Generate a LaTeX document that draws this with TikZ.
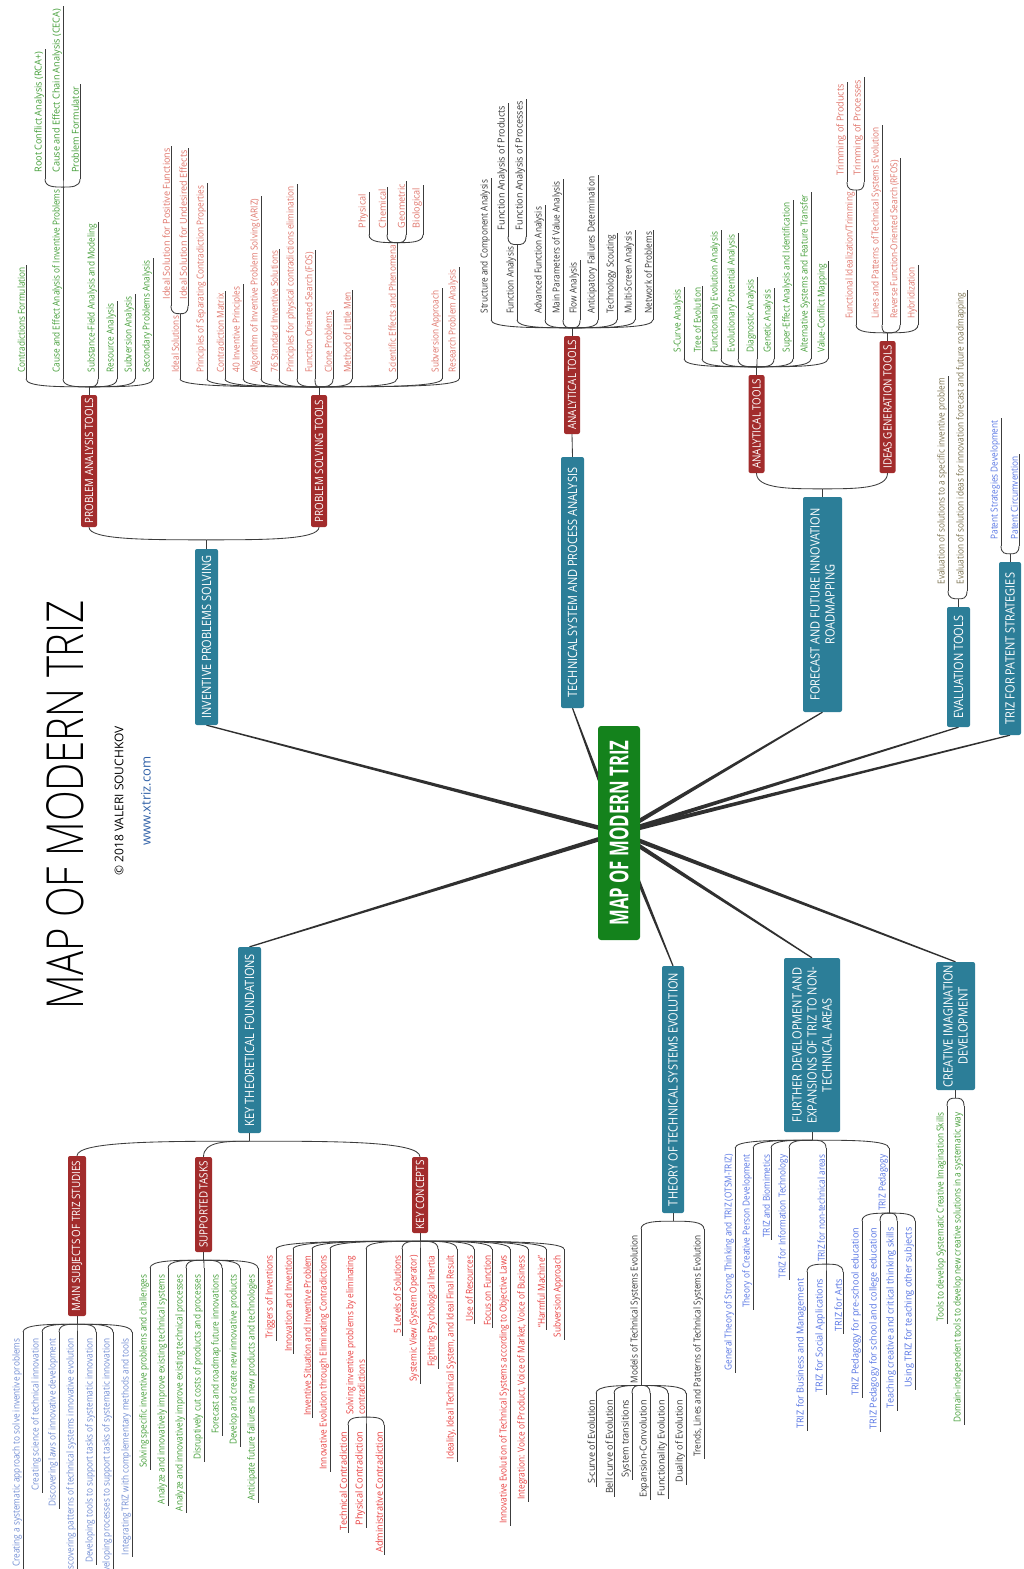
\documentclass[tikz,border=0pt]{standalone}
\usepackage{fontspec}
\setmainfont{Open Sans}
\newfontfamily\titlefont{Open Sans}[UprightFont=* Light]
\usetikzlibrary{calc}
\pgfdeclarelayer{bg}
\pgfsetlayers{bg,main}

\definecolor{boxteal}{RGB}{44,126,152}
\definecolor{boxred}{RGB}{162,44,44}
\definecolor{boxgreen}{RGB}{20,130,28}
\definecolor{linegray}{RGB}{60,60,60}
\definecolor{cGreen}{RGB}{68,158,56}
\definecolor{cSalmon}{RGB}{224,118,108}
\definecolor{cRed}{RGB}{232,62,62}
\definecolor{cDark}{RGB}{55,55,55}
\definecolor{cBlue}{RGB}{88,118,228}
\definecolor{cLBlue}{RGB}{115,142,212}
\definecolor{cOlive}{RGB}{125,116,82}
\definecolor{cUrl}{RGB}{50,98,168}

\tikzset{
  conn/.style={draw=linegray, line width=0.85pt},
  leaf/.style={rotate=90, xscale=0.86, font=\fontsize{9.6}{11.5}\selectfont, inner xsep=2.5pt, inner ysep=0.8pt},
  deep/.style={xscale=1.1},
  box/.style={rotate=90, xscale=0.86, rounded corners=2pt, text=white, align=center, inner xsep=3pt, inner ysep=0pt},
  blen/.style={minimum width=#1pt/0.86},
  tealbox/.style={box, fill=boxteal, font=\fontsize{12.8}{15}\selectfont, minimum height=23pt},
  redbox/.style={box, fill=boxred, font=\fontsize{11.4}{13}\selectfont, minimum height=16pt},
  hubbox/.style={rotate=90, rounded corners=3pt, fill=boxgreen, text=white,
    font=\bfseries\fontsize{26}{28}\selectfont, minimum width=214pt, minimum height=42pt, inner sep=0pt},
  lgreen/.style={text=cGreen},
  lsalmon/.style={text=cSalmon},
  lred/.style={text=cRed},
  ldark/.style={text=cDark},
  lblue/.style={text=cBlue},
  llblue/.style={text=cLBlue},
  lolive/.style={text=cOlive}
}

% curved branch from a fork point #2 to the start #3 of a child line
\newcommand\mmbend[3]{%
  \coordinate (#1c) at (#3 |- #2);
  \coordinate (#1m) at ($(#2)!0.5!(#1c)$);
  \draw[conn] (#2) .. controls (#1m) and (#1c) .. (#3);}

% leaf growing upwards: name, fork point, x of its line, colour style, text
\newcommand\leafup[5]{%
  \coordinate (#1x) at (#3,0);
  \path (#1x |- #2) ++(0,8) coordinate (#1s) ++(0,4) coordinate (#1t);
  \node[leaf,#4,anchor=south west] (#1) at (#1t) {#5};
  \mmbend{#1}{#2}{#1s}
  \draw[conn] (#1s) -- (#1.south east);}

% leaf growing downwards
\newcommand\leafdown[5]{%
  \coordinate (#1x) at (#3,0);
  \path (#1x |- #2) ++(0,-8) coordinate (#1s) ++(0,-4) coordinate (#1t);
  \node[leaf,#4,anchor=south east] (#1) at (#1t) {#5};
  \mmbend{#1}{#2}{#1s}
  \draw[conn] (#1s) -- (#1.south west);}

% tapered main connector: thin at #1, thick at #2
\newcommand\taperline[2]{%
  \fill[linegray!80!black] ($(#1)!0.6pt!90:(#2)$) -- ($(#1)!0.6pt!-90:(#2)$)
    -- ($(#2)!2.3pt!90:(#1)$) -- ($(#2)!2.3pt!-90:(#1)$) -- cycle;}

\begin{document}
\begin{tikzpicture}[x=1pt,y=1pt]
\useasboundingbox (0,0) rectangle (1023,-1569);
\clip (0,0) rectangle (1023,-1569);

% ---------- title ----------
\node[rotate=90, font=\titlefont\fontsize{51}{53}\selectfont] (ttl) at (65,-805) {\scalebox{0.785}[1]{MAP OF MODERN TRIZ}};
\node[rotate=90, font=\fontsize{12}{14}\selectfont] (cpy) at (119,-801) {© 2018 VALERI SOUCHKOV};
\node[rotate=90, font=\fontsize{13}{15}\selectfont, text=cUrl] (url) at (146,-801) {www.xtriz.com};

% ---------- hub ----------
\node[hubbox] (mmt) at (619,-833) {\scalebox{0.645}[1]{MAP OF MODERN TRIZ}};

% ---------- main topics ----------
\node[tealbox, blen=176] (inv) at (206.5,-637) {INVENTIVE PROBLEMS SOLVING};
\node[tealbox, blen=251] (tsa) at (572.5,-582.5) {TECHNICAL SYSTEM AND PROCESS ANALYSIS};
\node[tealbox, blen=215, minimum height=39pt] (ffr) at (822.5,-604.5) {FORECAST AND FUTURE INNOVATION\\ROADMAPPING};
\node[tealbox, blen=120] (evt) at (958.5,-667) {EVALUATION TOOLS};
\node[tealbox, blen=173, minimum height=22pt] (tps) at (1010,-648.5) {TRIZ FOR PATENT STRATEGIES};
\node[tealbox, blen=186] (ktf) at (249.5,-1040) {KEY THEORETICAL FOUNDATIONS};
\node[tealbox, blen=247, minimum height=22pt] (tse) at (673,-1089.5) {THEORY OF TECHNICAL SYSTEMS EVOLUTION};
\node[tealbox, blen=174, minimum height=56pt] (fde) at (812,-1045) {FURTHER DEVELOPMENT AND\\EXPANSIONS OF TRIZ TO NON-\\TECHNICAL AREAS};
\node[tealbox, blen=128, minimum height=39pt] (cid) at (955.5,-1026) {CREATIVE IMAGINATION\\DEVELOPMENT};

% ---------- sub topics ----------
\node[redbox, blen=132] (pat) at (89,-461) {PROBLEM ANALYSIS TOOLS};
\node[redbox, blen=132] (pst) at (319,-461) {PROBLEM SOLVING TOOLS};
\node[redbox, blen=98] (at1) at (572,-385) {ANALYTICAL TOOLS};
\node[redbox, blen=98] (at2) at (756.5,-424) {ANALYTICAL TOOLS};
\node[redbox, blen=132] (igt) at (887.5,-407) {IDEAS GENERATION TOOLS};
\node[redbox, blen=160, minimum height=18pt] (mst) at (77,-1236) {MAIN SUBJECTS OF TRIZ STUDIES};
\node[redbox, blen=95, minimum height=17pt] (spt) at (203.5,-1204.5) {SUPPORTED TASKS};
\node[redbox, blen=76] (kcs) at (420,-1195) {KEY CONCEPTS};

% ---------- forks between topics ----------
\coordinate (invf) at ($(inv.east)+(0,9)$);
\draw[conn] (inv.east) -- (invf);
\mmbend{bpa}{invf}{pat.west}
\mmbend{bps}{invf}{pst.west}
\draw[conn] (tsa.east) -- (at1.west);
\coordinate (ffrf) at ($(ffr.east)+(0,8)$);
\draw[conn] (ffr.east) -- (ffrf);
\mmbend{bfa}{ffrf}{at2.west}
\mmbend{bfi}{ffrf}{igt.west}
\coordinate (ktff) at ($(ktf.west)+(0,-8)$);
\draw[conn] (ktf.west) -- (ktff);
\mmbend{bkm}{ktff}{mst.east}
\mmbend{bks}{ktff}{spt.east}
\mmbend{bkc}{ktff}{kcs.east}

% ---------- problem analysis tools ----------
\coordinate (patf) at ($(pat.east)+(0,8)$);
\draw[conn] (pat.east) -- (patf);
\leafup{pa1}{patf}{26}{lgreen}{Contradictions Formulation}
\leafup{pa2}{patf}{63}{lgreen}{Cause and Effect Analysis of Inventive Problems}
\leafup{pa21}{pa2.south east}{45}{lgreen,deep}{Root Conflict Analysis (RCA+)}
\leafup{pa22}{pa2.south east}{63}{lgreen,deep}{Cause and Effect Chain Analysis (CECA)}
\leafup{pa23}{pa2.south east}{80}{lgreen,deep}{Problem Formulator}
\leafup{pa3}{patf}{98}{lgreen}{Substance-Field Analysis and Modeling}
\leafup{pa4}{patf}{117}{lgreen}{Resource Analysis}
\leafup{pa5}{patf}{135}{lgreen}{Subversion Analysis}
\leafup{pa6}{patf}{153}{lgreen}{Secondary Problems Analysis}

% ---------- problem solving tools ----------
\coordinate (pstf) at ($(pst.east)+(0,8)$);
\draw[conn] (pst.east) -- (pstf);
\leafup{ps1}{pstf}{180}{lsalmon}{Ideal Solutions}
\leafup{ps11}{ps1.south east}{171}{lsalmon,deep}{Ideal Solution for Positive Functions}
\leafup{ps12}{ps1.south east}{188}{lsalmon,deep}{Ideal Solution for Undesired Effects}
\leafup{ps2}{pstf}{207}{lsalmon}{Principles of Separating Contradiction Properties}
\leafup{ps3}{pstf}{225}{lsalmon}{Contradiction Matrix}
\leafup{ps4}{pstf}{243}{lsalmon}{40 Inventive Principles}
\leafup{ps5}{pstf}{261}{lsalmon}{Algorithm of Inventive Problem Solving (ARIZ)}
\leafup{ps6}{pstf}{279}{lsalmon}{76 Standard Inventive Solutions}
\leafup{ps7}{pstf}{297}{lsalmon}{Principles for physical contradictions elimination}
\leafup{ps8}{pstf}{315}{lsalmon}{Function Oriented Search (FOS)}
\leafup{ps9}{pstf}{333}{lsalmon}{Clone Problems}
\leafup{psa}{pstf}{352}{lsalmon}{Method of Little Men}
\leafup{pse}{pstf}{397}{lsalmon}{Scientific Effects and Phenomena}
\leafup{pse1}{pse.south east}{369}{lsalmon,deep}{Physical}
\leafup{pse2}{pse.south east}{387}{lsalmon,deep}{Chemical}
\leafup{pse3}{pse.south east}{406}{lsalmon,deep}{Geometric}
\leafup{pse4}{pse.south east}{423}{lsalmon,deep}{Biological}
\leafup{psb}{pstf}{442}{lsalmon}{Subversion Approach}
\leafup{psc}{pstf}{459}{lsalmon}{Research Problem Analysis}

% ---------- analytical tools (system analysis) ----------
\coordinate (at1f) at ($(at1.east)+(0,8)$);
\draw[conn] (at1.east) -- (at1f);
\leafup{ta1}{at1f}{491}{ldark}{Structure and Component Analysis}
\leafup{ta2}{at1f}{517}{ldark}{Function Analysis}
\leafup{ta21}{ta2.south east}{508}{ldark,deep}{Function Analysis of Products}
\leafup{ta22}{ta2.south east}{526}{ldark,deep}{Function Analysis of Processes}
\leafup{ta3}{at1f}{545}{ldark}{Advanced Function Analysis}
\leafup{ta4}{at1f}{563}{ldark}{Main Parameters of Value Analysis}
\leafup{ta5}{at1f}{580}{ldark}{Flow Analysis}
\leafup{ta6}{at1f}{598}{ldark}{Anticipatory Failures Determination}
\leafup{ta7}{at1f}{617}{ldark}{Technology Scouting}
\leafup{ta8}{at1f}{635}{ldark}{Multi-Screen Analysis}
\leafup{ta9}{at1f}{653}{ldark}{Network of Problems}

% ---------- analytical tools (forecast) ----------
\coordinate (at2f) at ($(at2.east)+(0,8)$);
\draw[conn] (at2.east) -- (at2f);
\leafup{fa1}{at2f}{684}{lgreen}{S-Curve Analysis}
\leafup{fa2}{at2f}{702}{lgreen}{Tree of Evolution}
\leafup{fa3}{at2f}{721}{lgreen}{Functionality Evolution Analysis}
\leafup{fa4}{at2f}{738}{lgreen}{Evolutionary Potential Analysis}
\leafup{fa5}{at2f}{757}{lgreen}{Diagnostic Analysis}
\leafup{fa6}{at2f}{774}{lgreen}{Genetic Analysis}
\leafup{fa7}{at2f}{793}{lgreen}{Super-Effect Analysis and Identification}
\leafup{fa8}{at2f}{811}{lgreen}{Alternative Systems and Feature Transfer}
\leafup{fa9}{at2f}{828}{lgreen}{Value-Conflict Mapping}

% ---------- ideas generation tools ----------
\coordinate (igtf) at ($(igt.east)+(0,8)$);
\draw[conn] (igt.east) -- (igtf);
\leafup{ig1}{igtf}{856}{lsalmon}{Functional Idealization/Trimming}
\leafup{ig11}{ig1.south east}{847}{lsalmon,deep}{Trimming of Products}
\leafup{ig12}{ig1.south east}{864}{lsalmon,deep}{Trimming of Processes}
\leafup{ig2}{igtf}{882}{lsalmon}{Lines and Patterns of Technical Systems Evolution}
\leafup{ig3}{igtf}{900}{lsalmon}{Reverse Function-Oriented Search (RFOS)}
\leafup{ig4}{igtf}{918}{lsalmon}{Hybridization}

% ---------- evaluation tools ----------
\coordinate (evtf) at ($(evt.east)+(0,8)$);
\draw[conn] (evt.east) -- (evtf);
\leafup{ev1}{evtf}{948}{lolive}{Evaluation of solutions to a specific inventive problem}
\leafup{ev2}{evtf}{967}{lolive}{Evaluation of solution ideas for innovation forecast and future roadmapping}

% ---------- patent strategies ----------
\coordinate (tpsf) at ($(tps.east)+(0,8)$);
\draw[conn] (tps.east) -- (tpsf);
\leafup{tp1}{tpsf}{1001}{lblue}{Patent Strategies Development}
\leafup{tp2}{tpsf}{1019}{lblue}{Patent Circumvention}

% ---------- main subjects of TRIZ studies ----------
\coordinate (mstf) at ($(mst.west)+(0,-8)$);
\draw[conn] (mst.west) -- (mstf);
\leafdown{ms1}{mstf}{23}{llblue}{Creating a systematic approach to solve inventive problems}
\leafdown{ms2}{mstf}{42}{llblue}{Creating science of technical innovation}
\leafdown{ms3}{mstf}{59}{llblue}{Discovering laws of innovative development}
\leafdown{ms4}{mstf}{77}{llblue}{Discovering patterns of technical systems innovative evolution}
\leafdown{ms5}{mstf}{96}{llblue}{Developing tools to support tasks of systematic innovation}
\leafdown{ms6}{mstf}{113}{llblue}{Developing processes to support tasks of systematic innovation}
\leafdown{ms7}{mstf}{132}{llblue}{Integrating TRIZ with complementary methods and tools}

% ---------- supported tasks ----------
\coordinate (sptf) at ($(spt.west)+(0,-8)$);
\draw[conn] (spt.west) -- (sptf);
\leafdown{st1}{sptf}{150}{lgreen}{Solving specific inventive problems and challenges}
\leafdown{st2}{sptf}{168}{lgreen}{Analyze and innovatively improve existing technical systems}
\leafdown{st3}{sptf}{186}{lgreen}{Analyze and innovatively improve existing technical processes}
\leafdown{st4}{sptf}{204}{lgreen}{Disruptively cut costs of products and processes}
\leafdown{st5}{sptf}{222}{lgreen}{Forecast and roadmap future innovations}
\leafdown{st6}{sptf}{240}{lgreen}{Develop and create new innovative products}
\leafdown{st7}{sptf}{258}{lgreen}{Anticipate future failures in new products and technologies}

% ---------- key concepts ----------
\coordinate (kcsf) at ($(kcs.west)+(0,-8)$);
\draw[conn] (kcs.west) -- (kcsf);
\leafdown{kc1}{kcsf}{276}{lred}{Triggers of Inventions}
\leafdown{kc2}{kcsf}{293}{lred}{Innovation and Invention}
\leafdown{kc3}{kcsf}{312}{lred}{Inventive Situation and Inventive Problem}
\leafdown{kc4}{kcsf}{330}{lred}{Innovative Evolution through Eliminating Contradictions}
\leafdown{kc5}{kcsf}{366}{lred,align=left}{Solving inventive problems by eliminating\\contradictions}
\leafdown{kc51}{kc5.south west}{348}{lred,deep}{Technical Contradiction}
\leafdown{kc52}{kc5.south west}{366}{lred,deep}{Physical Contradiction}
\leafdown{kc53}{kc5.south west}{384}{lred,deep}{Administrative Contradiction}
\leafdown{kc6}{kcsf}{402}{lred}{5 Levels of Solutions}
\leafdown{kc7}{kcsf}{420}{lred}{Systemic View (System Operator)}
\leafdown{kc8}{kcsf}{438}{lred}{Fighting Psychological Inertia}
\leafdown{kc9}{kcsf}{457}{lred}{Ideality, Ideal Technical System, and Ideal Final Result}
\leafdown{kca}{kcsf}{474}{lred}{Use of Resources}
\leafdown{kcb}{kcsf}{492}{lred}{Focus on Function}
\leafdown{kcc}{kcsf}{510}{lred}{Innovative Evolution of Technical Systems according to Objective Laws}
\leafdown{kcd}{kcsf}{528}{lred}{Integration: Voice of Product, Voice of Market, Voice of Business}
\leafdown{kce}{kcsf}{546}{lred}{“Harmful Machine”}
\leafdown{kcf}{kcsf}{564}{lred}{Subversion Approach}

% ---------- theory of technical systems evolution ----------
\coordinate (tsef) at ($(tse.west)+(0,-8)$);
\draw[conn] (tse.west) -- (tsef);
\leafdown{te1}{tsef}{641}{ldark}{Models of Technical Systems Evolution}
\leafdown{te11}{te1.south west}{596}{ldark,deep}{S-curve of Evolution}
\leafdown{te12}{te1.south west}{614}{ldark,deep}{Bell curve of Evolution}
\leafdown{te13}{te1.south west}{632}{ldark,deep}{System transitions}
\leafdown{te14}{te1.south west}{650}{ldark,deep}{Expansion-Convolution}
\leafdown{te15}{te1.south west}{668}{ldark,deep}{Functionality Evolution}
\leafdown{te16}{te1.south west}{686}{ldark,deep}{Duality of Evolution}
\leafdown{te2}{tsef}{704}{ldark}{Trends, Lines and Patterns of Technical Systems Evolution}

% ---------- further development ----------
\coordinate (fdef) at ($(fde.west)+(0,-8)$);
\draw[conn] (fde.west) -- (fdef);
\leafdown{fd1}{fdef}{735}{lblue}{General Theory of Strong Thinking and TRIZ (OTSM-TRIZ)}
\leafdown{fd2}{fdef}{753}{lblue}{Theory of Creative Person Development}
\leafdown{fd3}{fdef}{771}{lblue}{TRIZ and Biomimetics}
\leafdown{fd4}{fdef}{789}{lblue}{TRIZ for Information Technology}
\leafdown{fd5}{fdef}{826}{lblue}{TRIZ for non-technical areas}
\leafdown{fd51}{fd5.south west}{807}{lblue,deep}{TRIZ for Business and Management}
\leafdown{fd52}{fd5.south west}{826}{lblue,deep}{TRIZ for Social Applications}
\leafdown{fd53}{fd5.south west}{843}{lblue,deep}{TRIZ for Arts}
\leafdown{fd6}{fdef}{889}{lblue}{TRIZ Pedagogy}
\leafdown{fd61}{fd6.south west}{862}{lblue,deep}{TRIZ Pedagogy for pre-school education}
\leafdown{fd62}{fd6.south west}{880}{lblue,deep}{TRIZ Pedagogy for school and college education}
\leafdown{fd63}{fd6.south west}{897}{lblue,deep}{Teaching creative and critical thinking skills}
\leafdown{fd64}{fd6.south west}{915}{lblue,deep}{Using TRIZ for teaching other subjects}

% ---------- creative imagination development ----------
\coordinate (cidf) at ($(cid.west)+(0,-8)$);
\draw[conn] (cid.west) -- (cidf);
\leafdown{ci1}{cidf}{947}{lgreen}{Tools to develop Systematic Creative Imagination Skills}
\leafdown{ci2}{cidf}{964}{lgreen}{Domain-independent tools to develop new creative solutions in a systematic way}

% ---------- background and hub spokes ----------
\begin{pgfonlayer}{bg}
\fill[white] (0,0) rectangle (1023,-1569);
\taperline{inv.west}{mmt.center}
\taperline{tsa.west}{mmt.center}
\taperline{ffr.west}{mmt.center}
\taperline{evt.west}{mmt.center}
\taperline{tps.west}{mmt.center}
\taperline{ktf.east}{mmt.center}
\taperline{tse.east}{mmt.center}
\taperline{fde.east}{mmt.center}
\taperline{cid.east}{mmt.center}
\end{pgfonlayer}
\end{tikzpicture}
\end{document}
